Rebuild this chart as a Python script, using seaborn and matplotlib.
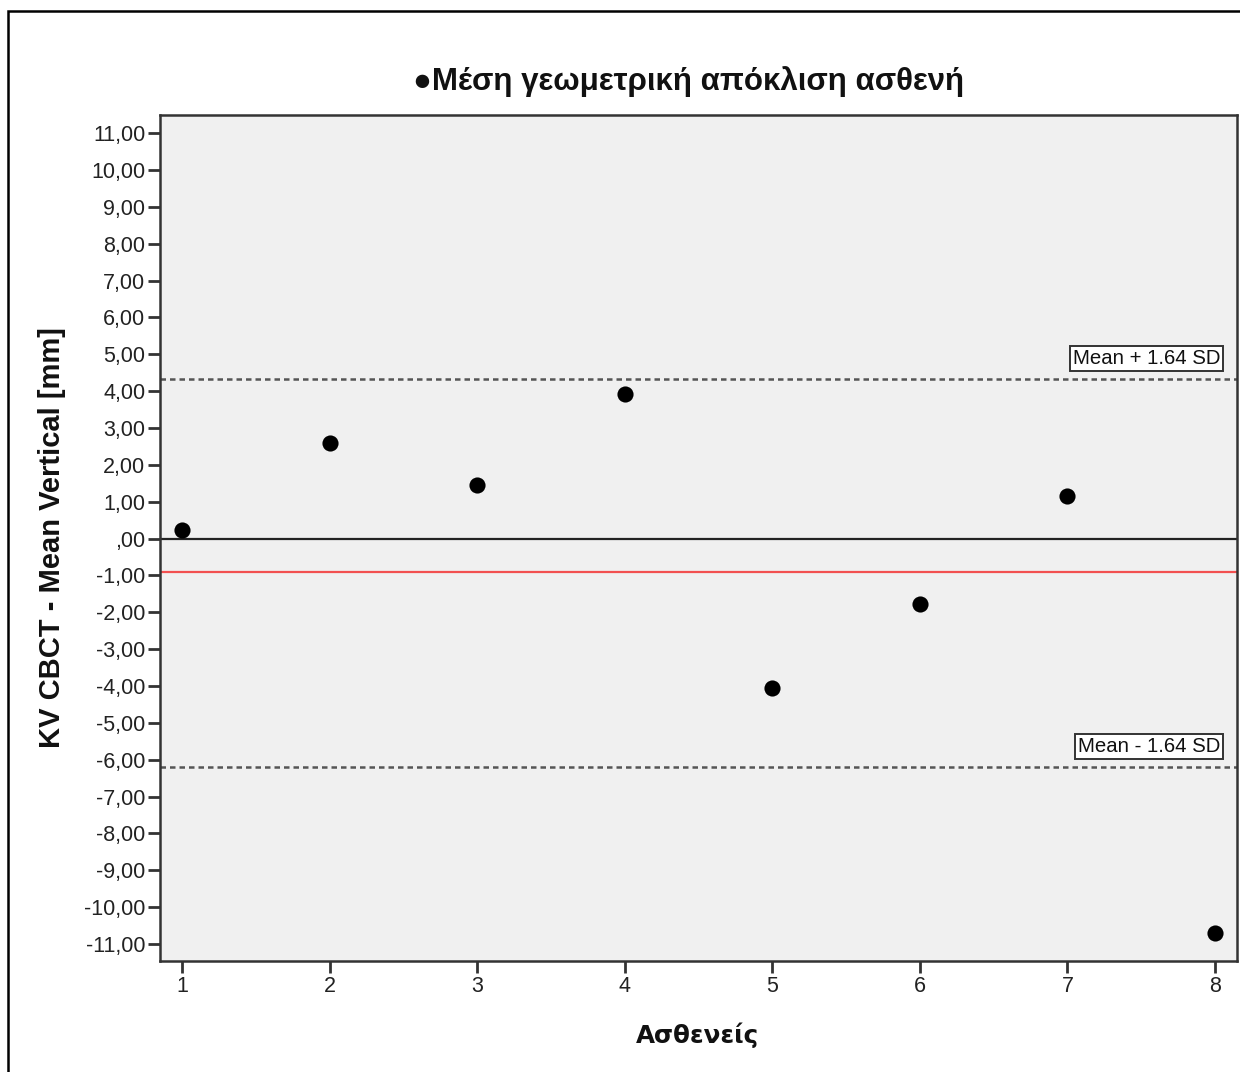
import matplotlib
matplotlib.use("Agg")
import matplotlib.pyplot as plt
import matplotlib.patches as mpatches
from matplotlib.ticker import FuncFormatter
import seaborn as sns
import pandas as pd

# Per-patient mean vertical deviation (kV CBCT), mm
patients = [1, 2, 3, 4, 5, 6, 7, 8]
deviation = [0.23, 2.59, 1.45, 3.92, -4.06, -1.78, 1.15, -10.70]

# Reference lines
mean_line = -0.91
upper_limit = 4.33
lower_limit = -6.20
upper_label = "Mean + 1.64 SD"
lower_label = "Mean - 1.64 SD"

y_ticks = list(range(-11, 12))
x_ticks = patients

title_text = "\u25cfΜέση γεωμετρική απόκλιση ασθενή"
x_label = "Ασθενείς"
y_label = "KV CBCT - Mean Vertical [mm]"

df = pd.DataFrame({"patient": patients, "deviation": deviation})

sns.set_theme(style="white")
plt.rcParams["font.family"] = ["Liberation Sans", "DejaVu Sans"]

fig = plt.figure(figsize=(12.4, 10.72), dpi=100)
ax = fig.add_axes([160 / 1240, 1 - 961 / 1072, (1237 - 160) / 1240, (961 - 115) / 1072])
ax.set_facecolor("#f0f0f0")

ax.axhline(0, color="#222222", lw=1.6, zorder=1)
ax.axhline(mean_line, color="#f25050", lw=1.6, zorder=1)
ax.axhline(upper_limit, color="#555555", lw=1.8, ls=(0, (2.2, 1.6)), zorder=1)
ax.axhline(lower_limit, color="#555555", lw=1.8, ls=(0, (2.2, 1.6)), zorder=1)

sns.scatterplot(data=df, x="patient", y="deviation", ax=ax, color="black",
                s=135, edgecolor="black", linewidth=0, zorder=3, legend=False)

box = dict(boxstyle="square,pad=0.14", fc="white", ec="#333333", lw=1.4)
ax.text(8.035, upper_limit + 0.3, upper_label, ha="right", va="bottom",
        fontsize=14.7, color="#111111", bbox=box, zorder=4)
ax.text(8.035, lower_limit + 0.3, lower_label, ha="right", va="bottom",
        fontsize=14.7, color="#111111", bbox=box, zorder=4)

ax.set_xlim(0.851, 8.149)
ax.set_ylim(-11.46, 11.49)
ax.set_xticks(x_ticks)
ax.set_yticks(y_ticks)


def fmt(v, pos):
    s = f"{v:.2f}".replace(".", ",")
    if s.startswith("0,"):
        s = s[1:]
    return s


ax.yaxis.set_major_formatter(FuncFormatter(fmt))
ax.tick_params(axis="both", direction="out", length=8.5, width=2.0,
               color="#333333", labelsize=15.5, labelcolor="#222222", pad=2,
               left=True, bottom=True)
for sp in ax.spines.values():
    sp.set_color("#333333")
    sp.set_linewidth(1.8)

ax.set_xlabel("")
ax.set_ylabel("")
fig.text(52 / 1240, 1 - 538 / 1072, y_label, rotation=90, ha="center", va="center",
         fontsize=21, fontweight="bold", color="#111111")
fig.text(697 / 1240, 1 - 1035 / 1072, x_label, ha="center", va="center",
         fontsize=17.7, fontweight="bold", color="#111111", family=["DejaVu Sans"])
fig.text(689 / 1240, 1 - 82 / 1072, title_text, ha="center", va="center",
         fontsize=22.5, fontweight="bold", color="#111111",
         family=["Liberation Sans", "DejaVu Sans"])

# Outer frame of the chart
fig.add_artist(mpatches.Rectangle((8 / 1240, -0.05), 1.1, 1 - 10.5 / 1072 + 0.05,
                                  transform=fig.transFigure, fill=False,
                                  ec="black", lw=1.8, clip_on=False))

fig.savefig("out.png", dpi=100)
